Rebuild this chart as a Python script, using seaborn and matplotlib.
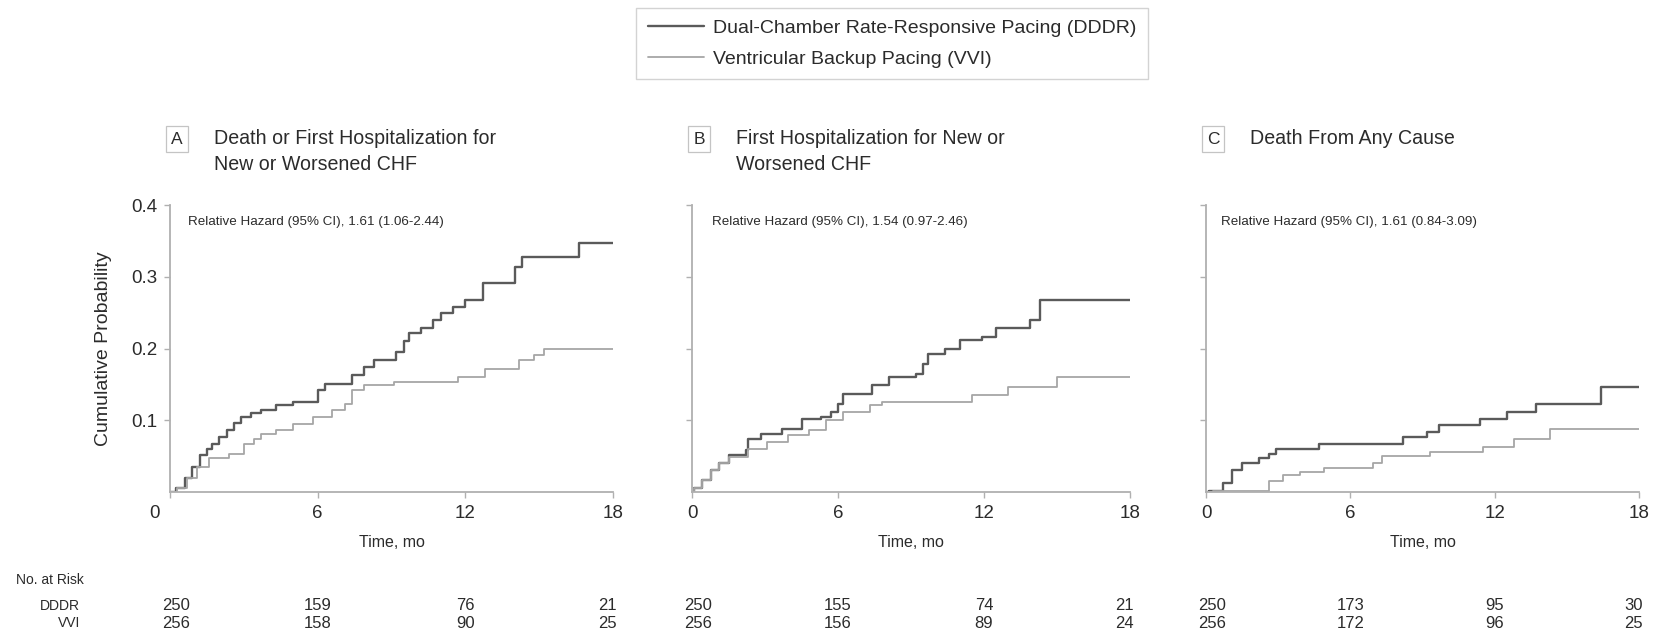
import matplotlib
matplotlib.use("Agg")
import pandas as pd
import matplotlib.pyplot as plt
import matplotlib.transforms as mtransforms
import seaborn as sns

W, H = 1671, 633

# panel texts
panel_letters = ["A", "B", "C"]
panel_titles = [
    ["Death or First Hospitalization for", "New or Worsened CHF"],
    ["First Hospitalization for New or", "Worsened CHF"],
    ["Death From Any Cause"],
]
hazard_texts = [
    "Relative Hazard (95% CI), 1.61 (1.06-2.44)",
    "Relative Hazard (95% CI), 1.54 (0.97-2.46)",
    "Relative Hazard (95% CI), 1.61 (0.84-3.09)",
]
groups = ["DDDR", "VVI"]
legend_labels = ["Dual-Chamber Rate-Responsive Pacing (DDDR)",
                 "Ventricular Backup Pacing (VVI)"]

# Kaplan-Meier step curves (months, cumulative probability)
a_dddr_time = [0, 0.25, 0.6, 0.9, 1.2, 1.5, 1.7, 2.0, 2.3, 2.6, 2.9, 3.3, 3.7, 4.3, 5.0, 6.0, 6.3,
               7.4, 7.9, 8.3, 9.2, 9.5, 9.7, 10.2, 10.7, 11.0, 11.5, 12.0, 12.7, 14.0, 14.3, 16.6, 18]
a_dddr_prob = [0, 0.005, 0.02, 0.035, 0.051, 0.06, 0.067, 0.077, 0.086, 0.096, 0.105, 0.110, 0.114,
               0.121, 0.126, 0.142, 0.151, 0.163, 0.174, 0.184, 0.195, 0.21, 0.221, 0.228, 0.24,
               0.249, 0.258, 0.267, 0.291, 0.314, 0.328, 0.347, 0.347]
a_vvi_time = [0, 0.3, 0.7, 1.1, 1.6, 2.4, 3.0, 3.4, 3.7, 4.3, 5.0, 5.8, 6.6, 7.1, 7.4, 7.9, 9.1,
              11.7, 12.8, 14.2, 14.8, 15.2, 18]
a_vvi_prob = [0, 0.005, 0.02, 0.035, 0.047, 0.053, 0.067, 0.074, 0.081, 0.086, 0.095, 0.105, 0.114,
              0.123, 0.142, 0.149, 0.153, 0.160, 0.172, 0.184, 0.191, 0.200, 0.200]

b_dddr_time = [0, 0.1, 0.4, 0.8, 1.1, 1.5, 2.2, 2.3, 2.85, 3.7, 4.5, 5.3, 5.7, 6.0, 6.2, 7.4, 8.1,
               9.2, 9.5, 9.7, 10.4, 11.0, 11.9, 12.5, 13.9, 14.3, 18]
b_dddr_prob = [0, 0.005, 0.017, 0.03, 0.04, 0.051, 0.058, 0.074, 0.081, 0.088, 0.102, 0.105, 0.112,
               0.122, 0.137, 0.149, 0.160, 0.165, 0.179, 0.193, 0.200, 0.212, 0.216, 0.228, 0.240,
               0.267, 0.267]
b_vvi_time = [0, 0.1, 0.4, 0.8, 1.1, 1.5, 2.3, 3.1, 3.95, 4.8, 5.5, 6.2, 7.3, 7.8, 11.5, 13.0, 15.0, 18]
b_vvi_prob = [0, 0.005, 0.017, 0.03, 0.04, 0.049, 0.06, 0.07, 0.079, 0.086, 0.1, 0.112, 0.121,
              0.126, 0.135, 0.147, 0.16, 0.16]

c_dddr_time = [0, 0.14, 0.7, 1.1, 1.5, 2.2, 2.6, 2.9, 4.7, 8.2, 9.2, 9.7, 11.4, 12.5, 13.7, 16.4, 18]
c_dddr_prob = [0, 0.002, 0.012, 0.03, 0.04, 0.047, 0.053, 0.06, 0.067, 0.077, 0.084, 0.093, 0.102,
               0.112, 0.123, 0.146, 0.146]
c_vvi_time = [0, 0.3, 2.6, 3.2, 3.9, 4.9, 6.95, 7.3, 9.3, 11.5, 12.8, 14.3, 18]
c_vvi_prob = [0, 0.001, 0.016, 0.023, 0.028, 0.033, 0.04, 0.05, 0.056, 0.063, 0.074, 0.088, 0.088]

# number at risk
risk_months = [0, 6, 12, 18]
a_risk_dddr = [250, 159, 76, 21]
a_risk_vvi = [256, 158, 90, 25]
b_risk_dddr = [250, 155, 74, 21]
b_risk_vvi = [256, 156, 89, 24]
c_risk_dddr = [250, 173, 95, 30]
c_risk_vvi = [256, 172, 96, 25]

curves = {
    "A": {"DDDR": (a_dddr_time, a_dddr_prob), "VVI": (a_vvi_time, a_vvi_prob)},
    "B": {"DDDR": (b_dddr_time, b_dddr_prob), "VVI": (b_vvi_time, b_vvi_prob)},
    "C": {"DDDR": (c_dddr_time, c_dddr_prob), "VVI": (c_vvi_time, c_vvi_prob)},
}
risks = {
    "A": (a_risk_dddr, a_risk_vvi),
    "B": (b_risk_dddr, b_risk_vvi),
    "C": (c_risk_dddr, c_risk_vvi),
}

rows = []
for p in panel_letters:
    for g in groups:
        t, pr = curves[p][g]
        for ti, pi in zip(t, pr):
            rows.append({"panel": p, "group": g, "time": ti, "prob": pi})
df = pd.DataFrame(rows)

sns.set_theme(style="white")
plt.rcParams["font.family"] = ["Liberation Sans", "DejaVu Sans"]

colors = {"DDDR": "#5a5a5a", "VVI": "#a6a6a6"}
widths = {"DDDR": 1.7, "VVI": 1.3}
text_col = "#2b2b2b"
axis_col = "#b0b0b0"

fig = plt.figure(figsize=(W / 100, H / 100), dpi=100)

def fx(px):
    return px / W

def fy(py):
    return 1 - py / H

# axes frames in pixels
ax_left = [170, 692, 1206]
ax_right = [613, 1130, 1639]
ax_top, ax_bot = 205, 492
hazard_x = [188, 712, 1221]
risk_rows_y = [606, 623]

axes = []
for i, p in enumerate(panel_letters):
    w = ax_right[i] - ax_left[i]
    ax = fig.add_axes([fx(ax_left[i]), fy(ax_bot), w / W, (ax_bot - ax_top) / H])
    axes.append(ax)
    sub = df[df["panel"] == p]
    for g in groups:
        sns.lineplot(data=sub[sub["group"] == g], x="time", y="prob", ax=ax,
                     color=colors[g], lw=widths[g], drawstyle="steps-post",
                     estimator=None, label=g, legend=False)
    ax.set_xlim(0, 18)
    ax.set_ylim(0, 0.4)
    ax.set_xticks(risk_months)
    ax.set_yticks([0.1, 0.2, 0.3, 0.4])
    if i == 0:
        ax.set_yticklabels(["0.1", "0.2", "0.3", "0.4"])
    else:
        ax.set_yticklabels([])
    ax.set_xlabel("Time, mo", fontsize=11.5, color=text_col, labelpad=10)
    ax.set_ylabel("")
    for s in ["top", "right"]:
        ax.spines[s].set_visible(False)
    for s in ["left", "bottom"]:
        ax.spines[s].set_color(axis_col)
        ax.spines[s].set_linewidth(1.3)
    ax.tick_params(axis="both", left=True, bottom=True, colors=axis_col,
                   labelcolor=text_col, labelsize=13.5, length=4, width=1.0,
                   direction="out", pad=5)
    ax.tick_params(axis="x", pad=5)

    # panel label box and title
    fig.text(fx(ax_left[i] + 7), fy(139), p, fontsize=12.5, color=text_col,
             ha="center", va="center",
             bbox=dict(boxstyle="square,pad=0.3", fc="white", ec="#c4c4c4", lw=0.9))
    for j, line in enumerate(panel_titles[i]):
        fig.text(fx(ax_left[i] + 44), fy(139 + 26 * j), line, fontsize=14.1,
                 color=text_col, ha="left", va="center")
    fig.text(fx(hazard_x[i]), fy(222), hazard_texts[i], fontsize=9.6,
             color=text_col, ha="left", va="center")

    # number at risk rows
    for r, vals in enumerate(risks[p]):
        for k, (m, v) in enumerate(zip(risk_months, vals)):
            xpx = ax_left[i] + w * m / 18
            ha = "left" if k == 0 else ("right" if k == 3 else "center")
            if k == 0:
                xpx -= 8
            if k == 3:
                xpx += 4
            fig.text(fx(xpx), fy(risk_rows_y[r]), str(v), fontsize=12, color=text_col,
                     ha=ha, va="center")

# the "0" of panel A sits a little left of its axis in the original
zero_lab = axes[0].get_xticklabels()[0]
zero_lab.set_transform(zero_lab.get_transform() +
                       mtransforms.ScaledTranslation(-0.15, 0, fig.dpi_scale_trans))

fig.text(fx(103), fy((ax_top + ax_bot) / 2), "Cumulative Probability", rotation=90,
         fontsize=14, color=text_col, ha="center", va="center")

fig.text(fx(16), fy(580), "No. at Risk", fontsize=10, color=text_col, ha="left", va="center")
fig.text(fx(80), fy(risk_rows_y[0]), "DDDR", fontsize=10, color=text_col, ha="right", va="center")
fig.text(fx(80), fy(risk_rows_y[1]), "VVI", fontsize=10, color=text_col, ha="right", va="center")

handles = axes[0].get_lines()[:2]
leg = fig.legend(handles, legend_labels, loc="upper center", bbox_to_anchor=(fx(892), fy(8)),
                 fontsize=14, frameon=True, fancybox=False, edgecolor="#c8c8c8",
                 handlelength=2.9, handletextpad=0.45, labelspacing=0.65,
                 borderpad=0.6, borderaxespad=0)
for t in leg.get_texts():
    t.set_color(text_col)
leg.get_frame().set_linewidth(1.0)

fig.savefig("out.png", dpi=100, facecolor="white")
